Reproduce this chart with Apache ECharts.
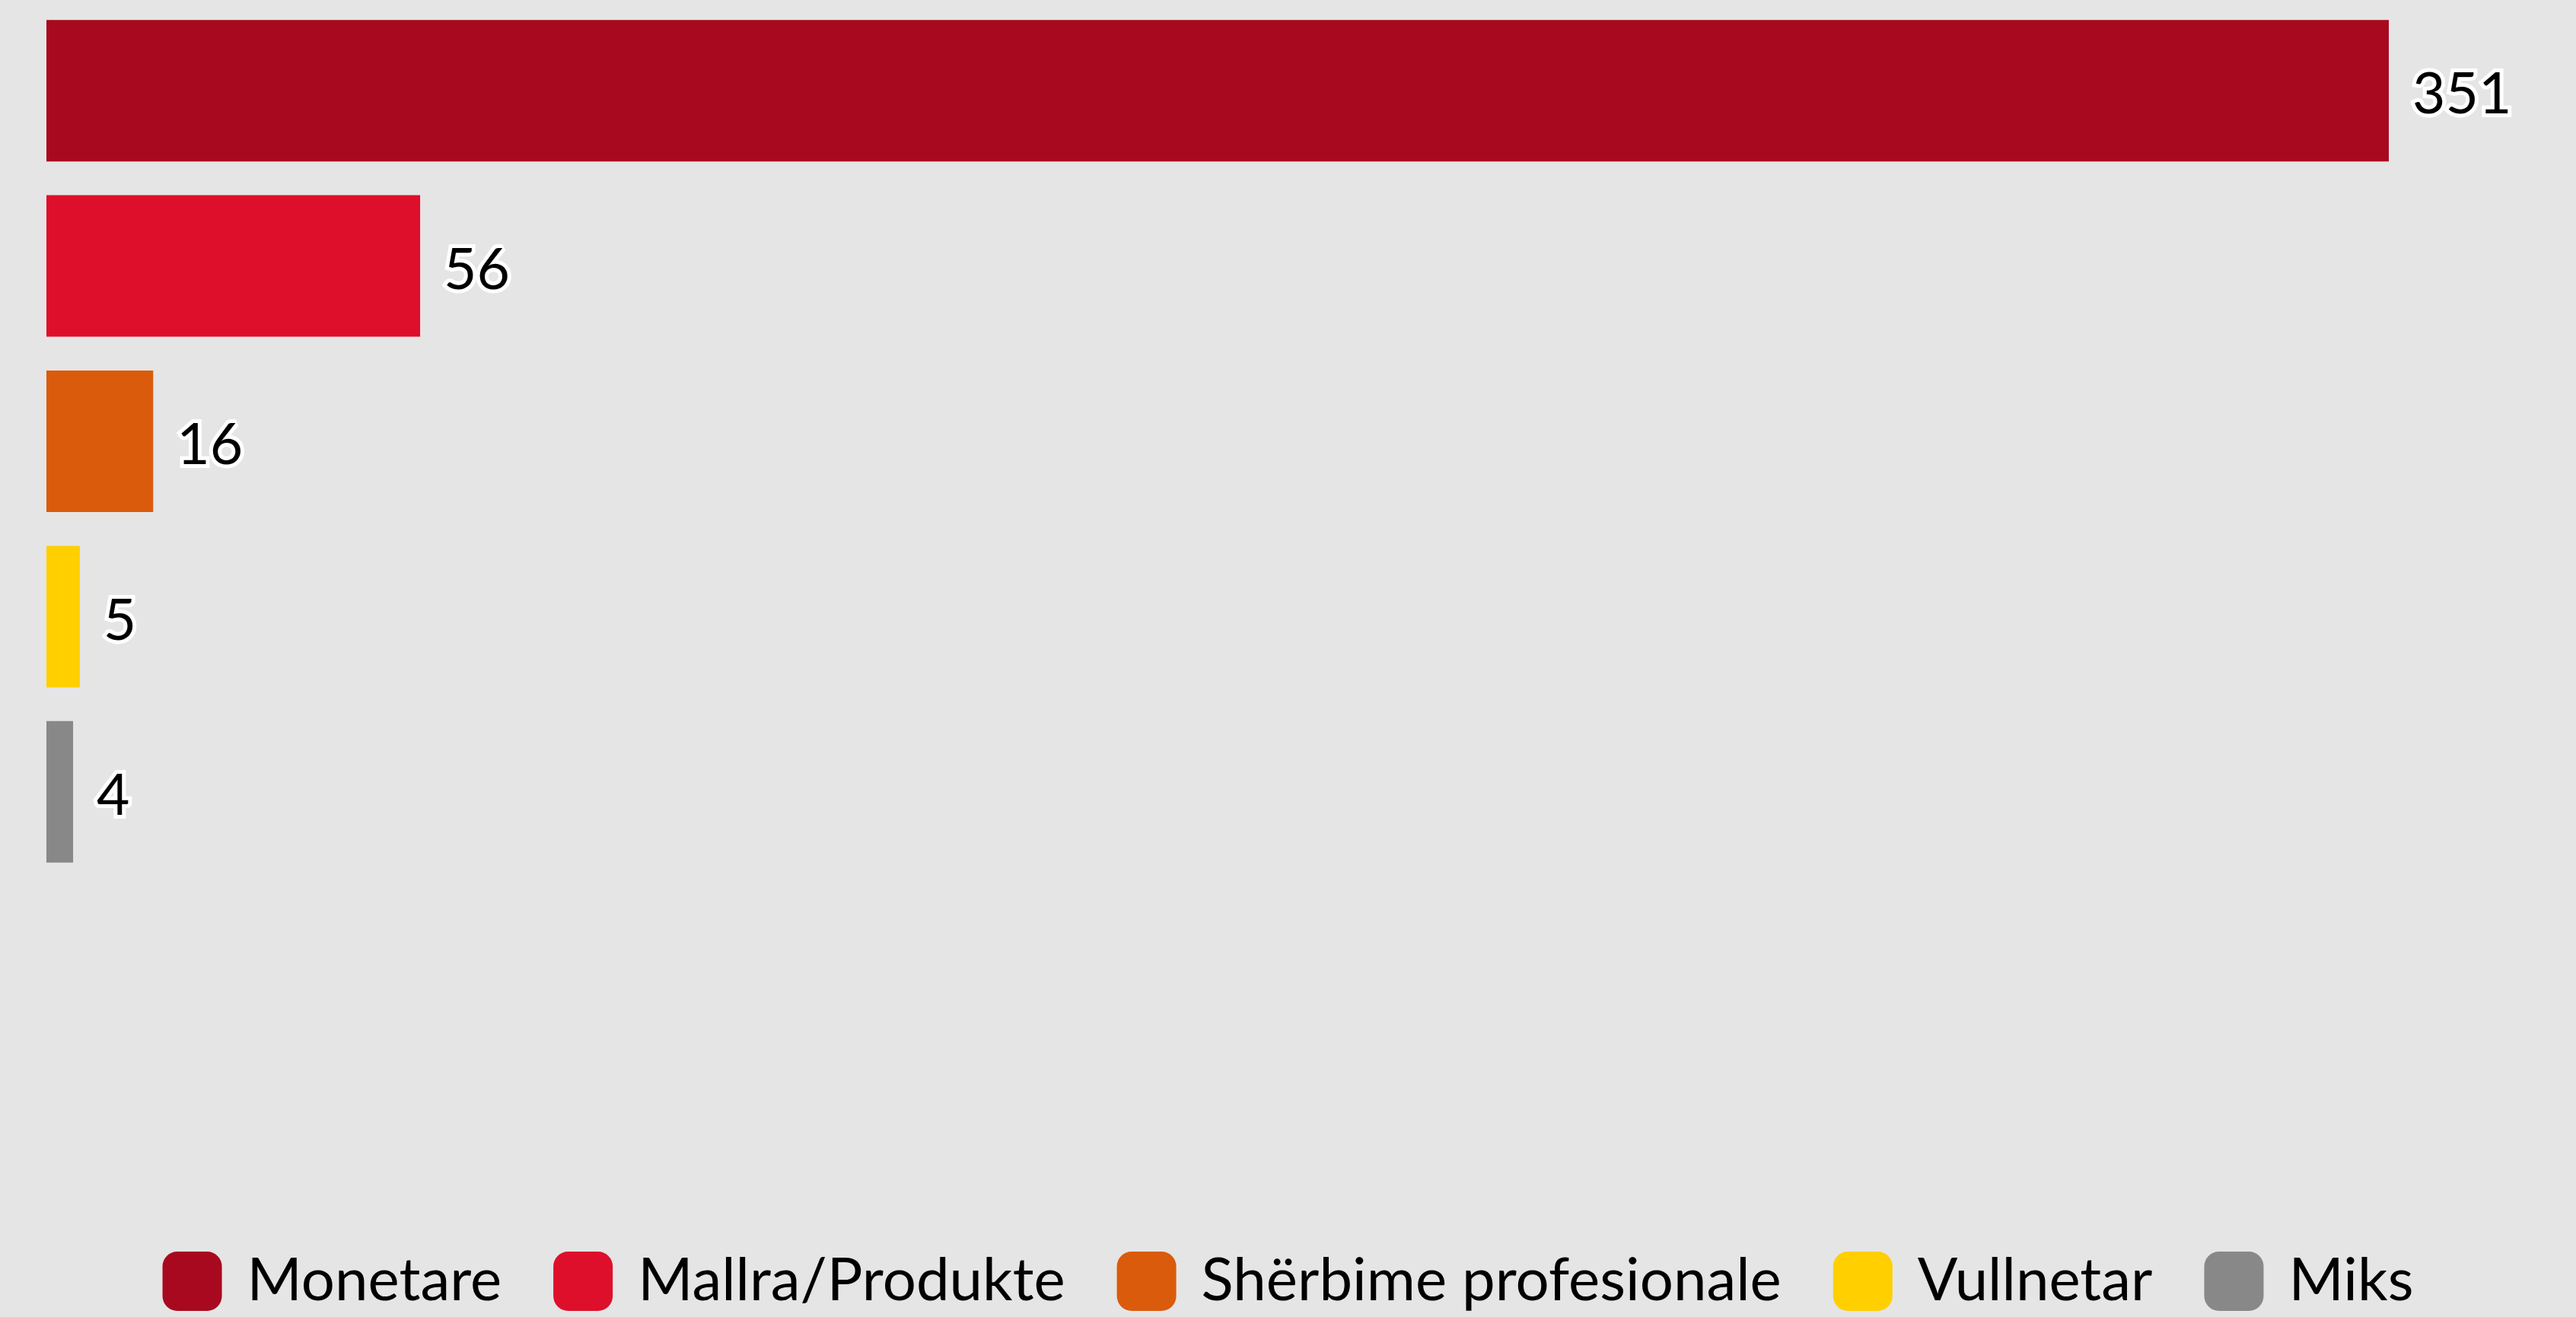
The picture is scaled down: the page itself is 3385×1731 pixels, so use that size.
<!DOCTYPE html>
<html>
<head>
<meta charset="utf-8">
<style>
  html, body { margin: 0; padding: 0; background: #e5e5e5; }
  #chart { width: 3385px; height: 1731px; }
</style>
<script src="https://cdn.jsdelivr.net/npm/echarts@6/dist/echarts.min.js"></script>
</head>
<body>
<div id="chart"></div>
<script>
// categories and values, top to bottom
var categories = ["Monetare", "Mallra/Produkte", "Shërbime profesionale", "Vullnetar", "Miks"];
var values = [351, 56, 16, 5, 4];
var colors = ["#a8091e", "#de0f2a", "#da5b0b", "#ffcf00", "#888888"];

var myChart = echarts.init(document.getElementById("chart"));

// one series per category so the legend shows every one of them
var series = categories.map(function (name, i) {
  return {
    name: name,
    type: "bar",
    stack: "all",
    barWidth: 186,
    itemStyle: { color: colors[i] },
    label: {
      show: true,
      position: "right",
      distance: 31,
      offset: [0, 6],
      fontFamily: "Lato",
      fontSize: 75,
      color: "#000",
      textBorderColor: "#fff",
      textBorderWidth: 10
    },
    data: values.map(function (v, j) { return j === i ? v : "-"; })
  };
});

var option = {
  backgroundColor: "#e5e5e5",
  animation: false,
  grid: { left: 61, right: 246, top: 4, height: 1152 },
  xAxis: {
    type: "value",
    min: 0,
    max: 351,
    show: false
  },
  yAxis: {
    type: "category",
    data: categories,
    inverse: true,
    show: false
  },
  legend: {
    bottom: 3,
    left: "center",
    itemWidth: 78,
    itemHeight: 78,
    itemGap: 68,
    icon: "roundRect",
    textStyle: {
      fontFamily: "Lato",
      fontSize: 78,
      color: "#000",
      padding: [0, 0, 0, 28]
    },
    data: categories
  },
  series: series
};

myChart.setOption(option);
</script>
</body>
</html>
